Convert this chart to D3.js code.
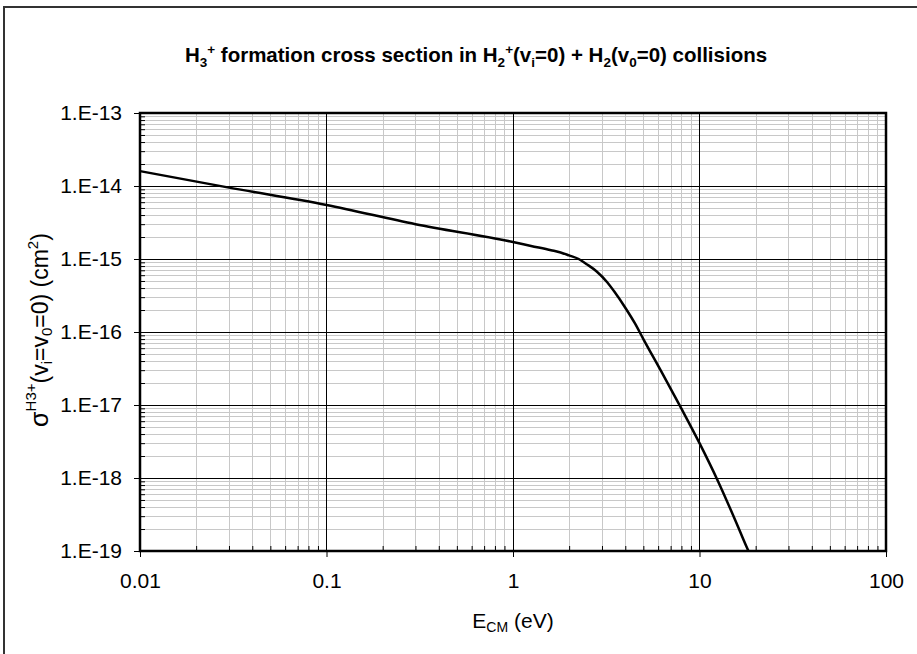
<!DOCTYPE html>
<html><head><meta charset="utf-8">
<script src="https://cdn.jsdelivr.net/npm/d3@7"></script>
<style>body{margin:0;background:#fff}svg{display:block}text{font-family:"Liberation Sans",Arial,sans-serif;fill:#000}</style>
</head><body>
<script>
const energy = [0.01, 0.03, 0.1, 0.3, 1, 1.25, 1.6, 1.8, 2, 2.25, 2.5, 2.8, 3.2, 3.5, 4, 4.5, 5, 6.3, 8, 10, 12.6, 15.8, 17.8, 18.3];
const sigma = [1.60e-14, 9.5e-15, 5.5e-15, 3.0e-15, 1.71e-15, 1.51e-15, 1.32e-15, 1.23e-15, 1.12e-15, 1.0e-15, 8.4e-16, 6.8e-16, 4.8e-16, 3.55e-16, 2.15e-16, 1.32e-16, 8.0e-17, 2.75e-17, 8.9e-18, 3.0e-18, 8.9e-19, 2.4e-19, 1.17e-19, 1.0e-19];
const xTicks = [0.01, 0.1, 1, 10, 100];
const xTickLabels = ["0.01", "0.1", "1", "10", "100"];
const yTicks = [1e-19, 1e-18, 1e-17, 1e-16, 1e-15, 1e-14, 1e-13];
const yTickLabels = ["1.E-19", "1.E-18", "1.E-17", "1.E-16", "1.E-15", "1.E-14", "1.E-13"];

const W = 917, H = 654;
const L = 140, R = 886, T = 113, B = 551;
const svg = d3.select("body").append("svg").attr("width", W).attr("height", H);

svg.append("rect").attr("x", 4).attr("y", 7).attr("width", 1000).attr("height", 1000)
  .attr("fill", "none").attr("stroke", "#333").attr("stroke-width", 2);

const x = d3.scaleLog().domain([0.01, 100]).range([L, R]);
const y = d3.scaleLog().domain([1e-19, 1e-13]).range([B, T]);

const minorX = [], minorY = [];
for (let d = -2; d < 2; d++) for (let m = 2; m <= 9; m++) minorX.push(m * Math.pow(10, d));
for (let d = -19; d < -13; d++) for (let m = 2; m <= 9; m++) minorY.push(m * Math.pow(10, d));

const g = svg.append("g");
g.selectAll(".mx").data(minorX).enter().append("line")
  .attr("x1", d => Math.round(x(d)) + 0.5).attr("x2", d => Math.round(x(d)) + 0.5)
  .attr("y1", T).attr("y2", B).attr("stroke", "#c8c8c8").attr("stroke-width", 1);
g.selectAll(".my").data(minorY).enter().append("line")
  .attr("y1", d => Math.round(y(d)) + 0.5).attr("y2", d => Math.round(y(d)) + 0.5)
  .attr("x1", L).attr("x2", R).attr("stroke", "#c8c8c8").attr("stroke-width", 1);
g.selectAll(".Mx").data(xTicks.slice(1, -1)).enter().append("line")
  .attr("x1", d => Math.round(x(d)) + 0.5).attr("x2", d => Math.round(x(d)) + 0.5)
  .attr("y1", T).attr("y2", B).attr("stroke", "#000").attr("stroke-width", 1);
g.selectAll(".My").data(yTicks.slice(1, -1)).enter().append("line")
  .attr("y1", d => Math.round(y(d)) + 0.5).attr("y2", d => Math.round(y(d)) + 0.5)
  .attr("x1", L).attr("x2", R).attr("stroke", "#000").attr("stroke-width", 1);

// axes
const xAxis = d3.axisBottom(x).tickValues(xTicks).tickFormat((d, i) => xTickLabels[i]).tickSize(6).tickPadding(16);
const xg = svg.append("g").attr("transform", `translate(0,${B})`).call(xAxis);
xg.select(".domain").remove();
xg.selectAll("text").attr("font-size", 21).attr("font-family", "Liberation Sans, Arial, sans-serif");
xg.selectAll("line").attr("stroke", "#000");
const xm = d3.axisBottom(x).tickValues(minorX).tickFormat("").tickSize(-5);
const xmg = svg.append("g").attr("transform", `translate(0,${B})`).call(xm);
xmg.select(".domain").remove(); xmg.selectAll("line").attr("stroke", "#000");

const yAxis = d3.axisLeft(y).tickValues(yTicks).tickFormat((d, i) => yTickLabels[i]).tickSize(6).tickPadding(12);
const yg = svg.append("g").attr("transform", `translate(${L},0)`).call(yAxis);
yg.select(".domain").remove();
yg.selectAll("text").attr("font-size", 21).attr("font-family", "Liberation Sans, Arial, sans-serif");
yg.selectAll("line").attr("stroke", "#000");
const ym = d3.axisLeft(y).tickValues(minorY).tickFormat("").tickSize(-5);
const ymg = svg.append("g").attr("transform", `translate(${L},0)`).call(ym);
ymg.select(".domain").remove(); ymg.selectAll("line").attr("stroke", "#000");

// curve
const data = energy.map((e, i) => [e, sigma[i]]);
svg.append("path").datum(data)
  .attr("d", d3.line().x(d => x(d[0])).y(d => y(d[1])).curve(d3.curveMonotoneX))
  .attr("fill", "none").attr("stroke", "#000").attr("stroke-width", 2.5);

// frame
svg.append("rect").attr("x", L).attr("y", T).attr("width", R - L).attr("height", B - T)
  .attr("fill", "none").attr("stroke", "#000").attr("stroke-width", 2.5);

// title
const sub = 13.5;
const t = svg.append("text").attr("x", 476).attr("y", 62).attr("text-anchor", "middle")
  .attr("font-size", 20.5).attr("font-weight", "bold");
t.append("tspan").text("H");
t.append("tspan").text("3").attr("font-size", sub).attr("dy", 5);
t.append("tspan").text("+").attr("font-size", sub).attr("dy", -13);
t.append("tspan").text(" formation cross section in H").attr("dy", 8);
t.append("tspan").text("2").attr("font-size", sub).attr("dy", 5);
t.append("tspan").text("+").attr("font-size", sub).attr("dy", -13);
t.append("tspan").text("(v").attr("dy", 8);
t.append("tspan").text("i").attr("font-size", sub).attr("dy", 5);
t.append("tspan").text("=0) + H").attr("dy", -5);
t.append("tspan").text("2").attr("font-size", sub).attr("dy", 5);
t.append("tspan").text("(v").attr("dy", -5);
t.append("tspan").text("0").attr("font-size", sub).attr("dy", 5);
t.append("tspan").text("=0) collisions").attr("dy", -5);

// x label
const xl = svg.append("text").attr("x", 513).attr("y", 628).attr("text-anchor", "middle").attr("font-size", 21);
xl.append("tspan").text("E");
xl.append("tspan").text("CM").attr("font-size", 14).attr("dy", 4);
xl.append("tspan").text(" (eV)").attr("dy", -4);

// y label
const yl = svg.append("text").attr("transform", "translate(48,330) rotate(-90)").attr("text-anchor", "middle").attr("font-size", 23);
yl.append("tspan").text("σ").attr("font-size", 25);
yl.append("tspan").text("H3+").attr("font-size", 15).attr("dy", -12);
yl.append("tspan").text("(v").attr("dy", 12);
yl.append("tspan").text("i").attr("font-size", 15).attr("dy", 4);
yl.append("tspan").text("=v").attr("dy", -4);
yl.append("tspan").text("0").attr("font-size", 15).attr("dy", 4);
yl.append("tspan").text("=0) (cm").attr("dy", -4);
yl.append("tspan").text("2").attr("font-size", 15).attr("dy", -10);
yl.append("tspan").text(")").attr("dy", 10);
</script>
</body></html>
